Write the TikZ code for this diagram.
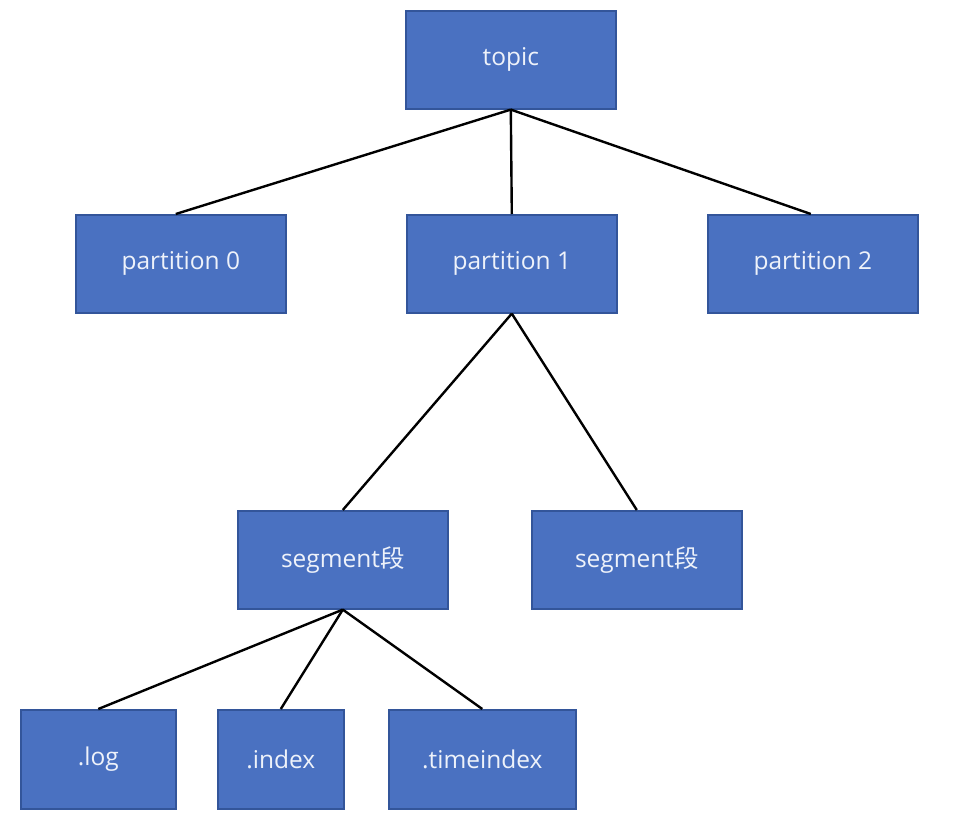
\documentclass[tikz,border=0pt]{standalone}
\usepackage{fontspec}
\setmainfont{Open Sans}
\newfontfamily\cjk{Noto Sans CJK SC}
\definecolor{boxfill}{HTML}{4A71C1}
\definecolor{boxline}{HTML}{33559A}
\definecolor{boxtext}{HTML}{EEF2FA}
\begin{document}
\begin{tikzpicture}[x=1pt,y=-1pt,
  box/.style={draw=boxline,fill=boxfill,line width=1.6pt,text=boxtext,font=\fontsize{24.5}{27}\selectfont,minimum height=98pt,inner sep=0pt,anchor=north west},
  link/.style={draw=black,line width=2.4pt}]
\useasboundingbox (0,0) rectangle (966,822);
\node[box,minimum width=210pt] (topic) at (405,10) {topic};
\node[box,minimum width=210pt] (p0) at (75,214) {partition 0};
\node[box,minimum width=210pt] (p1) at (406,214) {partition 1};
\node[box,minimum width=210pt] (p2) at (707,214) {partition 2};
\node[box,minimum width=210pt] (s1) at (237,510) {segment{\cjk 段}};
\node[box,minimum width=210pt] (s2) at (531,510) {segment{\cjk 段}};
\node[box,minimum width=155pt,minimum height=99pt] (log) at (20,709) {.log};
\node[box,minimum width=126pt,minimum height=99pt] (idx) at (217,709) {.index};
\node[box,minimum width=187pt,minimum height=99pt] (tidx) at (388,709) {.timeindex};
\coordinate (p0t) at ([xshift=-5pt]p0.north);
\coordinate (p2t) at ([xshift=-2pt]p2.north);
\draw[link] (topic.south) -- (p0t);
\draw[link] (topic.south) -- (p1.north);
\draw[link] (topic.south) -- (p2t);
\draw[link] (p1.south) -- (s1.north);
\draw[link] (p1.south) -- (s2.north);
\draw[link] (s1.south) -- (log.north);
\draw[link] (s1.south) -- (idx.north);
\draw[link] (s1.south) -- (tidx.north);
\end{tikzpicture}
\end{document}
